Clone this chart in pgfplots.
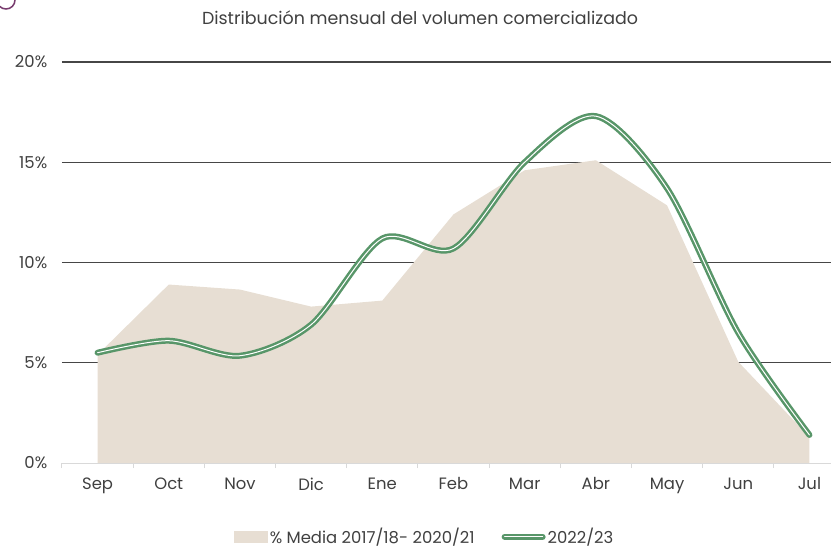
\documentclass[border=0pt]{standalone}
\usepackage{fontspec}
\setmainfont{Poppins}
\usepackage{pgfplots}
\pgfplotsset{compat=1.18}
\definecolor{beige}{RGB}{231,222,211}
\definecolor{verde}{RGB}{88,150,105}
\definecolor{gridc}{RGB}{70,70,70}
\definecolor{txt}{RGB}{64,64,64}
\definecolor{axisc}{RGB}{217,217,217}
\definecolor{morado}{RGB}{120,60,110}

\pgfplotstableread{
x y
0 5.4
1 8.9
2 8.65
3 7.8
4 8.1
5 12.4
6 14.6
7 15.1
8 12.85
9 5.05
10 1.3
}\media

\pgfplotstableread{
x y
0 5.5
1 6.1
2 5.35
3 6.9
4 11.2
5 10.7
6 15.0
7 17.3
8 13.7
9 6.5
10 1.4
}\actual

\begin{document}
\begin{tikzpicture}
\useasboundingbox (0,0) rectangle (831bp,548bp);
\draw[morado, line width=1.5bp] (6bp,548bp) circle (9bp);
\node[font=\fontsize{17.5}{20}\selectfont, text=txt] at (420bp,530bp) {Distribución mensual del volumen comercializado};
\begin{axis}[
  at={(62bp,85bp)}, anchor=south west,
  scale only axis, width=783bp, height=401bp,
  xmin=-0.5, xmax=10.5, ymin=0, ymax=20,
  axis lines*=left,
  x axis line style={draw=axisc, line width=1bp},
  y axis line style={draw=none},
  xtick={0,...,10},
  xticklabels={Sep,Oct,Nov,Dic,Ene,Feb,Mar,Abr,May,Jun,Jul},
  minor xtick={-0.5,0.5,...,10.5},
  major x tick style={draw=none},
  minor x tick style={draw=axisc, line width=1bp},
  minor tick length=5bp,
  tick align=outside,
  ytick={5,10,15,20},
  extra y ticks={0},
  extra y tick style={grid=none},
  ytick style={draw=none},
  /pgf/number format/assume math mode=true,
  yticklabel={\pgfmathprintnumber{\tick}\%},
  ymajorgrids,
  grid style={draw=gridc, line width=1.3bp},
  tick label style={font=\fontsize{16.5}{19}\selectfont, text=txt},
  yticklabel style={xshift=-7bp},
  xticklabel style={yshift=-7bp},
  legend style={at={(0.463,-0.184)}, anchor=center, draw=none, fill=none,
    legend columns=2, font=\fontsize{16.5}{19}\selectfont, text=txt,
    /tikz/every even column/.append style={column sep=25bp}},
]
\addplot[fill=beige, draw=none, area legend,
  legend image code/.code={\fill[beige] (0bp,-6bp) rectangle (34bp,6bp);}]
  table[x=x,y=y]{\media} \closedcycle;
\addlegendentry{\% Media 2017/18- 2020/21}
\addplot[verde, line width=2.5bp, double=white, double distance=1bp, smooth, tension=0.5, line cap=round,
  legend image code/.code={\draw[verde, line width=2.5bp, double=white, double distance=1bp, line cap=round] (0bp,0bp) -- (38bp,0bp);}]
  table[x=x,y=y]{\actual};
\addlegendentry{2022/23}
\end{axis}
\end{tikzpicture}
\end{document}
